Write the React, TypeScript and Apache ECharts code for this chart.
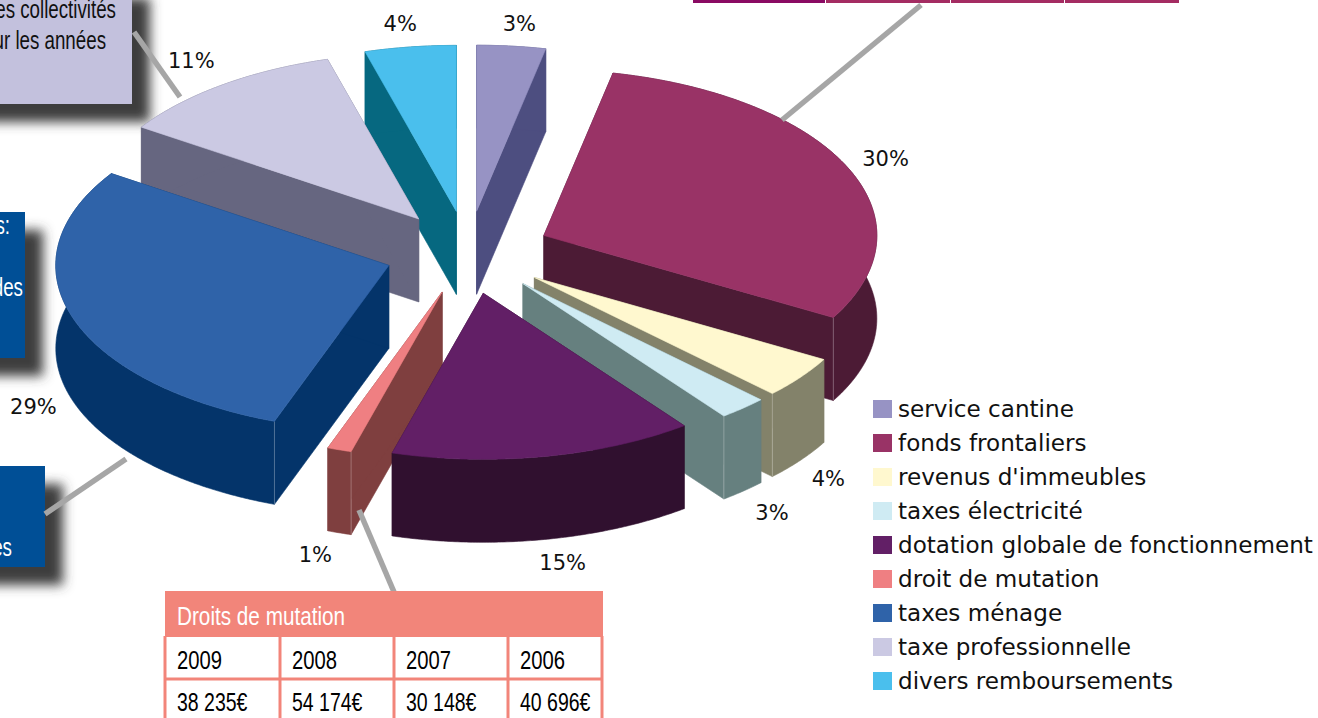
import React, { useEffect, useRef } from "react";
import * as echarts from "echarts";

// ---- data
const categories = [
  "service cantine",
  "fonds frontaliers",
  "revenus d'immeubles",
  "taxes électricité",
  "dotation globale de fonctionnement",
  "droit de mutation",
  "taxes ménage",
  "taxe professionnelle",
  "divers remboursements",
];
const shares = [3.33, 29.9, 4.1, 2.36, 14.72, 1.17, 28.75, 11.25, 4.42];
const percentLabels = ["3%", "30%", "4%", "3%", "15%", "1%", "29%", "11%", "4%"];
const tableTitle = "Droits de mutation";
const tableYears = ["2009", "2008", "2007", "2006"];
const tableAmounts = ["38 235€", "54 174€", "30 148€", "40 696€"];

// ---- styles
const topColors = ["#9793C4", "#993366", "#FFF8CF", "#CFEBF3", "#621F66", "#EF7F82", "#2F63A9", "#CBC9E3", "#4ABFED"];
const wallColors = ["#4D4E80", "#4C1B35", "#83826A", "#66807F", "#30102F", "#7F3F3F", "#04346A", "#666680", "#066880"];

// ---- layout of the pie
const CX = 467.9;
const CY = 252.5;
const RX = 333;
const RY = 166;
const DEPTH = 83;
const EXPLODE = 0.25;
// label nudges from the rim (pixels), one per slice
const labelNudges: [number, number, boolean][] = [
  [8, -22, false],
  [38, -8, false],
  [28, 19, true],
  [29, 22, true],
  [18, 24, true],
  [-24, 22, true],
  [-39, 7, true],
  [-31, -24, false],
  [-10, -23, false],
];

const total = shares.reduce((a, b) => a + b, 0);
const bounds: number[] = [0];
shares.forEach((v) => bounds.push(bounds[bounds.length - 1] + (v / total) * 360));
const mids = shares.map((_, i) => (bounds[i] + bounds[i + 1]) / 2);
const rad = (d: number) => (d * Math.PI) / 180;
const depthOrder = mids.map((m, i) => ({ i, d: -Math.cos(rad(m)) })).sort((a, b) => a.d - b.d);
const zOf = (i: number) => 2 + depthOrder.findIndex((o) => o.i === i);

function sliceRender(i: number) {
  return () => {
    const a = bounds[i];
    const b = bounds[i + 1];
    const m = mids[i];
    const ax = CX + EXPLODE * RX * Math.sin(rad(m));
    const ay = CY - EXPLODE * RY * Math.cos(rad(m));
    const rim = (t: number, dy = 0): number[] => [ax + RX * Math.sin(rad(t)), ay - RY * Math.cos(rad(t)) + dy];
    const arc: number[][] = [];
    const arcLow: number[][] = [];
    const steps = Math.max(2, Math.ceil((b - a) * 2));
    for (let k = 0; k <= steps; k++) {
      const t = a + ((b - a) * k) / steps;
      arc.push(rim(t));
      arcLow.push(rim(t, DEPTH));
    }
    const wall = { fill: wallColors[i], stroke: wallColors[i], lineWidth: 0.6 };
    const wallPoly = (t: number) => ({
      type: "polygon",
      shape: { points: [[ax, ay], rim(t), rim(t, DEPTH), [ax, ay + DEPTH]] },
      style: wall,
    });
    const children: any[] = [
      wallPoly(a),
      wallPoly(b),
      { type: "polygon", shape: { points: [...arc, ...arcLow.slice().reverse()] }, style: wall },
    ];
    const seam = b > 90 && b < 180 ? b : a > 180 && a < 270 ? a : null;
    if (seam !== null) {
      const p = rim(seam);
      children.push({
        type: "line",
        shape: { x1: p[0], y1: p[1], x2: p[0], y2: p[1] + DEPTH },
        style: { stroke: "rgba(255,255,255,0.28)", lineWidth: 1 },
      });
    }
    children.push({
      type: "polygon",
      shape: { points: [[ax, ay], ...arc] },
      style: { fill: topColors[i], stroke: topColors[i], lineWidth: 0.6 },
    });
    const [nx, ny, front] = labelNudges[i];
    const lp = rim(m, front ? DEPTH : 0);
    children.push({
      type: "text",
      style: {
        text: percentLabels[i],
        x: lp[0] + nx,
        y: lp[1] + ny,
        fill: "#111111",
        font: "21px 'DejaVu Sans'",
        align: "center",
        verticalAlign: "middle",
      },
    });
    return { type: "group", children };
  };
}

const BODY_FONT = "'Liberation Sans'";
const boxText = (text: string, right: number, y: number, fill: string) => ({
  type: "text",
  z: 1,
  x: right,
  y,
  scaleX: 0.75,
  style: { text, x: 0, y: 0, fill, font: `25px ${BODY_FONT}`, align: "right", verticalAlign: "middle" },
});
const cellText = (text: string, x: number, y: number, scaleX: number, fill: string, size: number) => ({
  type: "text",
  z: 1,
  x,
  y,
  scaleX,
  style: { text, x: 0, y: 0, fill, font: `${size}px ${BODY_FONT}`, verticalAlign: "middle" },
});
const shadowBox = (x: number, y: number, width: number, height: number, fill: string) => ({
  type: "rect",
  z: 0,
  shape: { x, y, width, height },
  style: { fill, shadowBlur: 12, shadowColor: "#3E3E3E", shadowOffsetX: 18, shadowOffsetY: 18 },
});
const leader = (x1: number, y1: number, x2: number, y2: number) => ({
  type: "line",
  z: 20,
  shape: { x1, y1, x2, y2 },
  style: { stroke: "#A6A6A6", lineWidth: 5.5 },
});
const topBar = (x: number, width: number, fill: string) => ({
  type: "rect",
  z: 1,
  shape: { x, y: 0, width, height: 3 },
  style: { fill },
});

function tableGraphics(): any[] {
  const salmon = "#F2857A";
  const xs = [165, 280, 394, 508, 602];
  const out: any[] = [
    { type: "rect", z: 21, shape: { x: 165, y: 591, width: 438, height: 46 }, style: { fill: salmon } },
    { ...cellText(tableTitle, 177, 616, 0.797, "#FFFFFF", 26), z: 22 },
    { type: "line", z: 21, shape: { x1: 165, y1: 679, x2: 603, y2: 679 }, style: { stroke: salmon, lineWidth: 3 } },
  ];
  xs.forEach((x) =>
    out.push({ type: "line", z: 21, shape: { x1: x, y1: 636, x2: x, y2: 718 }, style: { stroke: salmon, lineWidth: 3 } })
  );
  tableYears.forEach((t, i) => {
    const x = xs[i] + 12;
    out.push(cellText(t, x, 660, 0.81, "#000000", 25));
    out.push(cellText(tableAmounts[i], x, 703, 0.78, "#000000", 25));
  });
  return out;
}

export default function App() {
  const ref = useRef<HTMLDivElement>(null);
  useEffect(() => {
    document.body.style.margin = "0";
    document.body.style.overflow = "hidden";
    const chart = echarts.init(ref.current!, null, { renderer: "svg" });
    chart.setOption({
      animation: false,
      backgroundColor: "#FFFFFF",
      legend: {
        orient: "vertical",
        left: 873,
        top: 396,
        height: 322,
        padding: 0,
        itemWidth: 19,
        itemHeight: 18,
        itemGap: 8,
        icon: "rect",
        selectedMode: false,
        data: categories,
        textStyle: { fontFamily: "DejaVu Sans", fontSize: 23.1, lineHeight: 26, color: "#111111", padding: [0, 0, 0, 1] },
      },
      graphic: {
        elements: [
          shadowBox(-40, -20, 172, 124, "#C3C1DD"),
          shadowBox(-40, 212, 65, 146, "#005096"),
          shadowBox(-40, 466, 85, 101, "#005096"),
          boxText("es collectivités", 116, 10, "#111111"),
          boxText("ur les années", 106, 41, "#111111"),
          boxText("s:", 10, 226, "#FFFFFF"),
          boxText("des", 23, 288, "#FFFFFF"),
          boxText("es", 12, 548, "#FFFFFF"),
          topBar(693, 132, "#8A0A63"),
          topBar(826, 124, "#A42C62"),
          topBar(951, 113, "#A42C62"),
          topBar(1065, 114, "#A42C62"),
          leader(134, 32, 180, 97),
          leader(782, 120, 921, 5),
          leader(126, 459, 45, 514),
          leader(359, 510, 394, 592),
          ...tableGraphics(),
        ],
      },
      series: categories.map((name, i) => ({
        type: "custom",
        name,
        coordinateSystem: "none",
        z: zOf(i),
        silent: true,
        itemStyle: { color: topColors[i] },
        data: [shares[i]],
        renderItem: sliceRender(i),
      })),
    });
    return () => chart.dispose();
  }, []);
  return <div ref={ref} style={{ width: 1318, height: 718 }} />;
}
